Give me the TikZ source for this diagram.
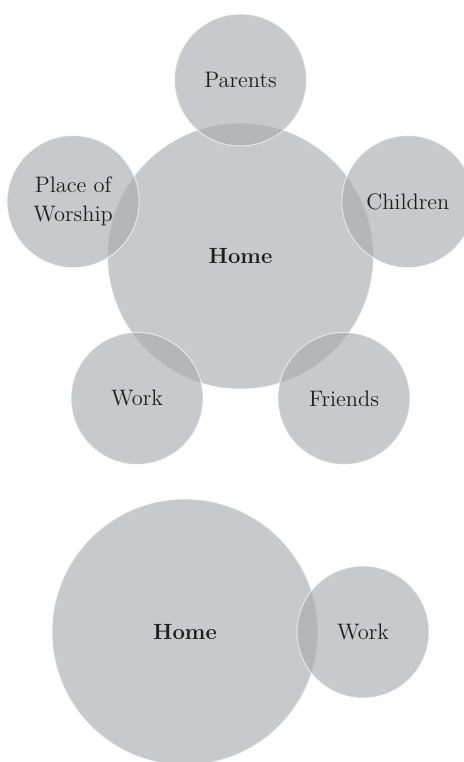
\documentclass[tikz,border=0pt]{standalone}
\usetikzlibrary{trees}
\definecolor{bubblegray}{RGB}{170,172,176}

\begin{document}
\begin{tikzpicture}[x=0.5pt, y=-0.5pt,
                    bubble/.style={circle, draw=white, draw opacity=0.6, line width=0.5pt,
                                   fill=bubblegray, fill opacity=0.65, text opacity=1,
                                   text=black!88, minimum size=66pt, inner sep=0pt,
                                   align=center, font=\fontsize{11.2}{14.5}\selectfont},
                    hub/.style={bubble, minimum size=133pt,
                                font=\fontsize{11}{14.5}\selectfont\bfseries},
                    every child node/.style={bubble},
                    edge from parent/.style={draw=none}]

    \useasboundingbox (0,0) rectangle (464,762);

    % home with the five circles round it
    \node[hub] (home) at (240.5,256) {Home}
      [grow cyclic, clockwise from=90, sibling angle=72, level distance=88pt]
      child {node (parents) {Parents}}
      child {node (children) {Children}}
      child {node (friends) {Friends}}
      child {node (work) {Work}}
      child {node (worship) {Place of\\Worship}}
      ;

    % home and work only
    \node[hub] (home2) at (185,632) {Home}
      [grow=right, level distance=89pt]
      child {node (work2) {Work}}
      ;
\end{tikzpicture}
\end{document}
